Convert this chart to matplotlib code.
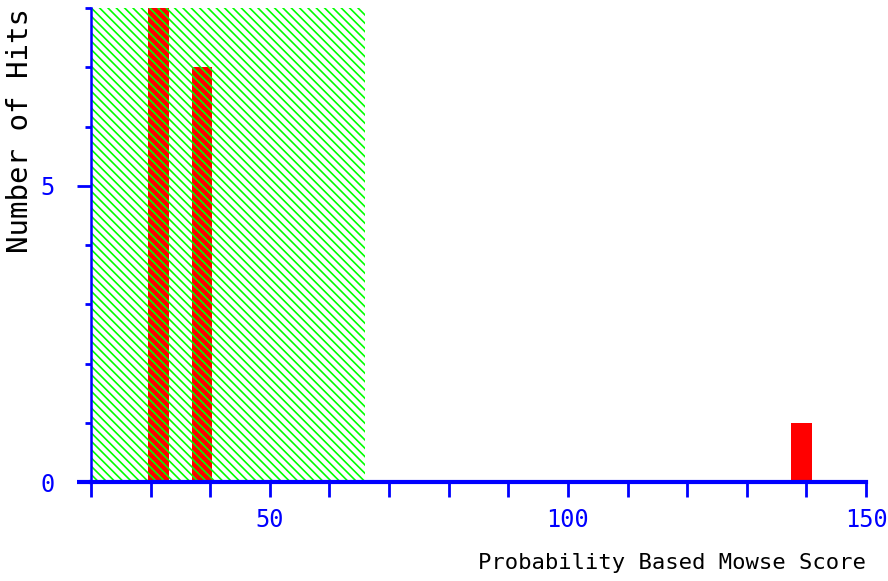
import numpy as np
import matplotlib
matplotlib.use("Agg")
import matplotlib.pyplot as plt
from matplotlib.ticker import MultipleLocator


# -----------------------------
# DATA
# -----------------------------
scores = [31.3, 38.6, 139.2]   # bin centres (Mowse score)
hits = [8, 7, 1]               # number of hits per bin
bar_width = 3.4
threshold = 66                  # shaded (non significant) region ends here
x_min, x_max = 20, 150
y_max = 8

x_major = [50, 100, 150]
y_major = [0, 5]

blue = "#0000ff"
red = "#ff0000"
green = "#00ff00"
font = "DejaVu Sans Mono"

plt.rcParams["hatch.linewidth"] = 1.2


# -----------------------------
# FIGURE
# -----------------------------
fig = plt.figure(figsize=(8.88, 5.81), dpi=100)
ax = fig.add_axes([91 / 888, 1 - 482 / 581, (866 - 91) / 888, (482 - 8) / 581])

ax.bar(scores, hits, width=bar_width, color=red, linewidth=0, zorder=2)

# shaded region, hatch drawn over the bars (four backslashes -> dense lines)
ax.axvspan(x_min, threshold, facecolor="none", edgecolor=green,
           hatch=chr(92) * 4, linewidth=0, zorder=3)

ax.set_xlim(x_min, x_max)
ax.set_ylim(0, y_max)

for side in ["top", "right"]:
    ax.spines[side].set_visible(False)
ax.spines["bottom"].set_color(blue)
ax.spines["bottom"].set_linewidth(3)
ax.spines["left"].set_color(blue)
ax.spines["left"].set_linewidth(1.8)
ax.spines["bottom"].set_zorder(4)
ax.spines["left"].set_zorder(4)

# x axis line sticks out a bit to the left
ax.plot([-0.018, 0], [0, 0], transform=ax.transAxes, color=blue,
        lw=3, clip_on=False, solid_capstyle="butt", zorder=4)

ax.set_xticks(x_major)
ax.xaxis.set_minor_locator(MultipleLocator(10))
ax.set_yticks(y_major)
ax.yaxis.set_minor_locator(MultipleLocator(1))

ax.tick_params(axis="x", which="both", direction="out", length=11, width=2,
               color=blue, labelcolor=blue, labelsize=17, pad=8)
ax.tick_params(axis="y", which="major", direction="out", length=10, width=2,
               color=blue, labelcolor=blue, labelsize=17, pad=16)
ax.tick_params(axis="y", which="minor", direction="out", length=4, width=2,
               color=blue)
for lab in ax.get_xticklabels() + ax.get_yticklabels():
    lab.set_family(font)

fig.text(20 / 888, 1 - 8 / 581, "Number of Hits", rotation=90,
         ha="center", va="top", fontsize=21, family=font, color="black")
fig.text(866 / 888, 1 - 563 / 581, "Probability Based Mowse Score",
         ha="right", va="center", fontsize=16, family=font, color="black")

plt.savefig("out.png", dpi=100)
plt.close()
